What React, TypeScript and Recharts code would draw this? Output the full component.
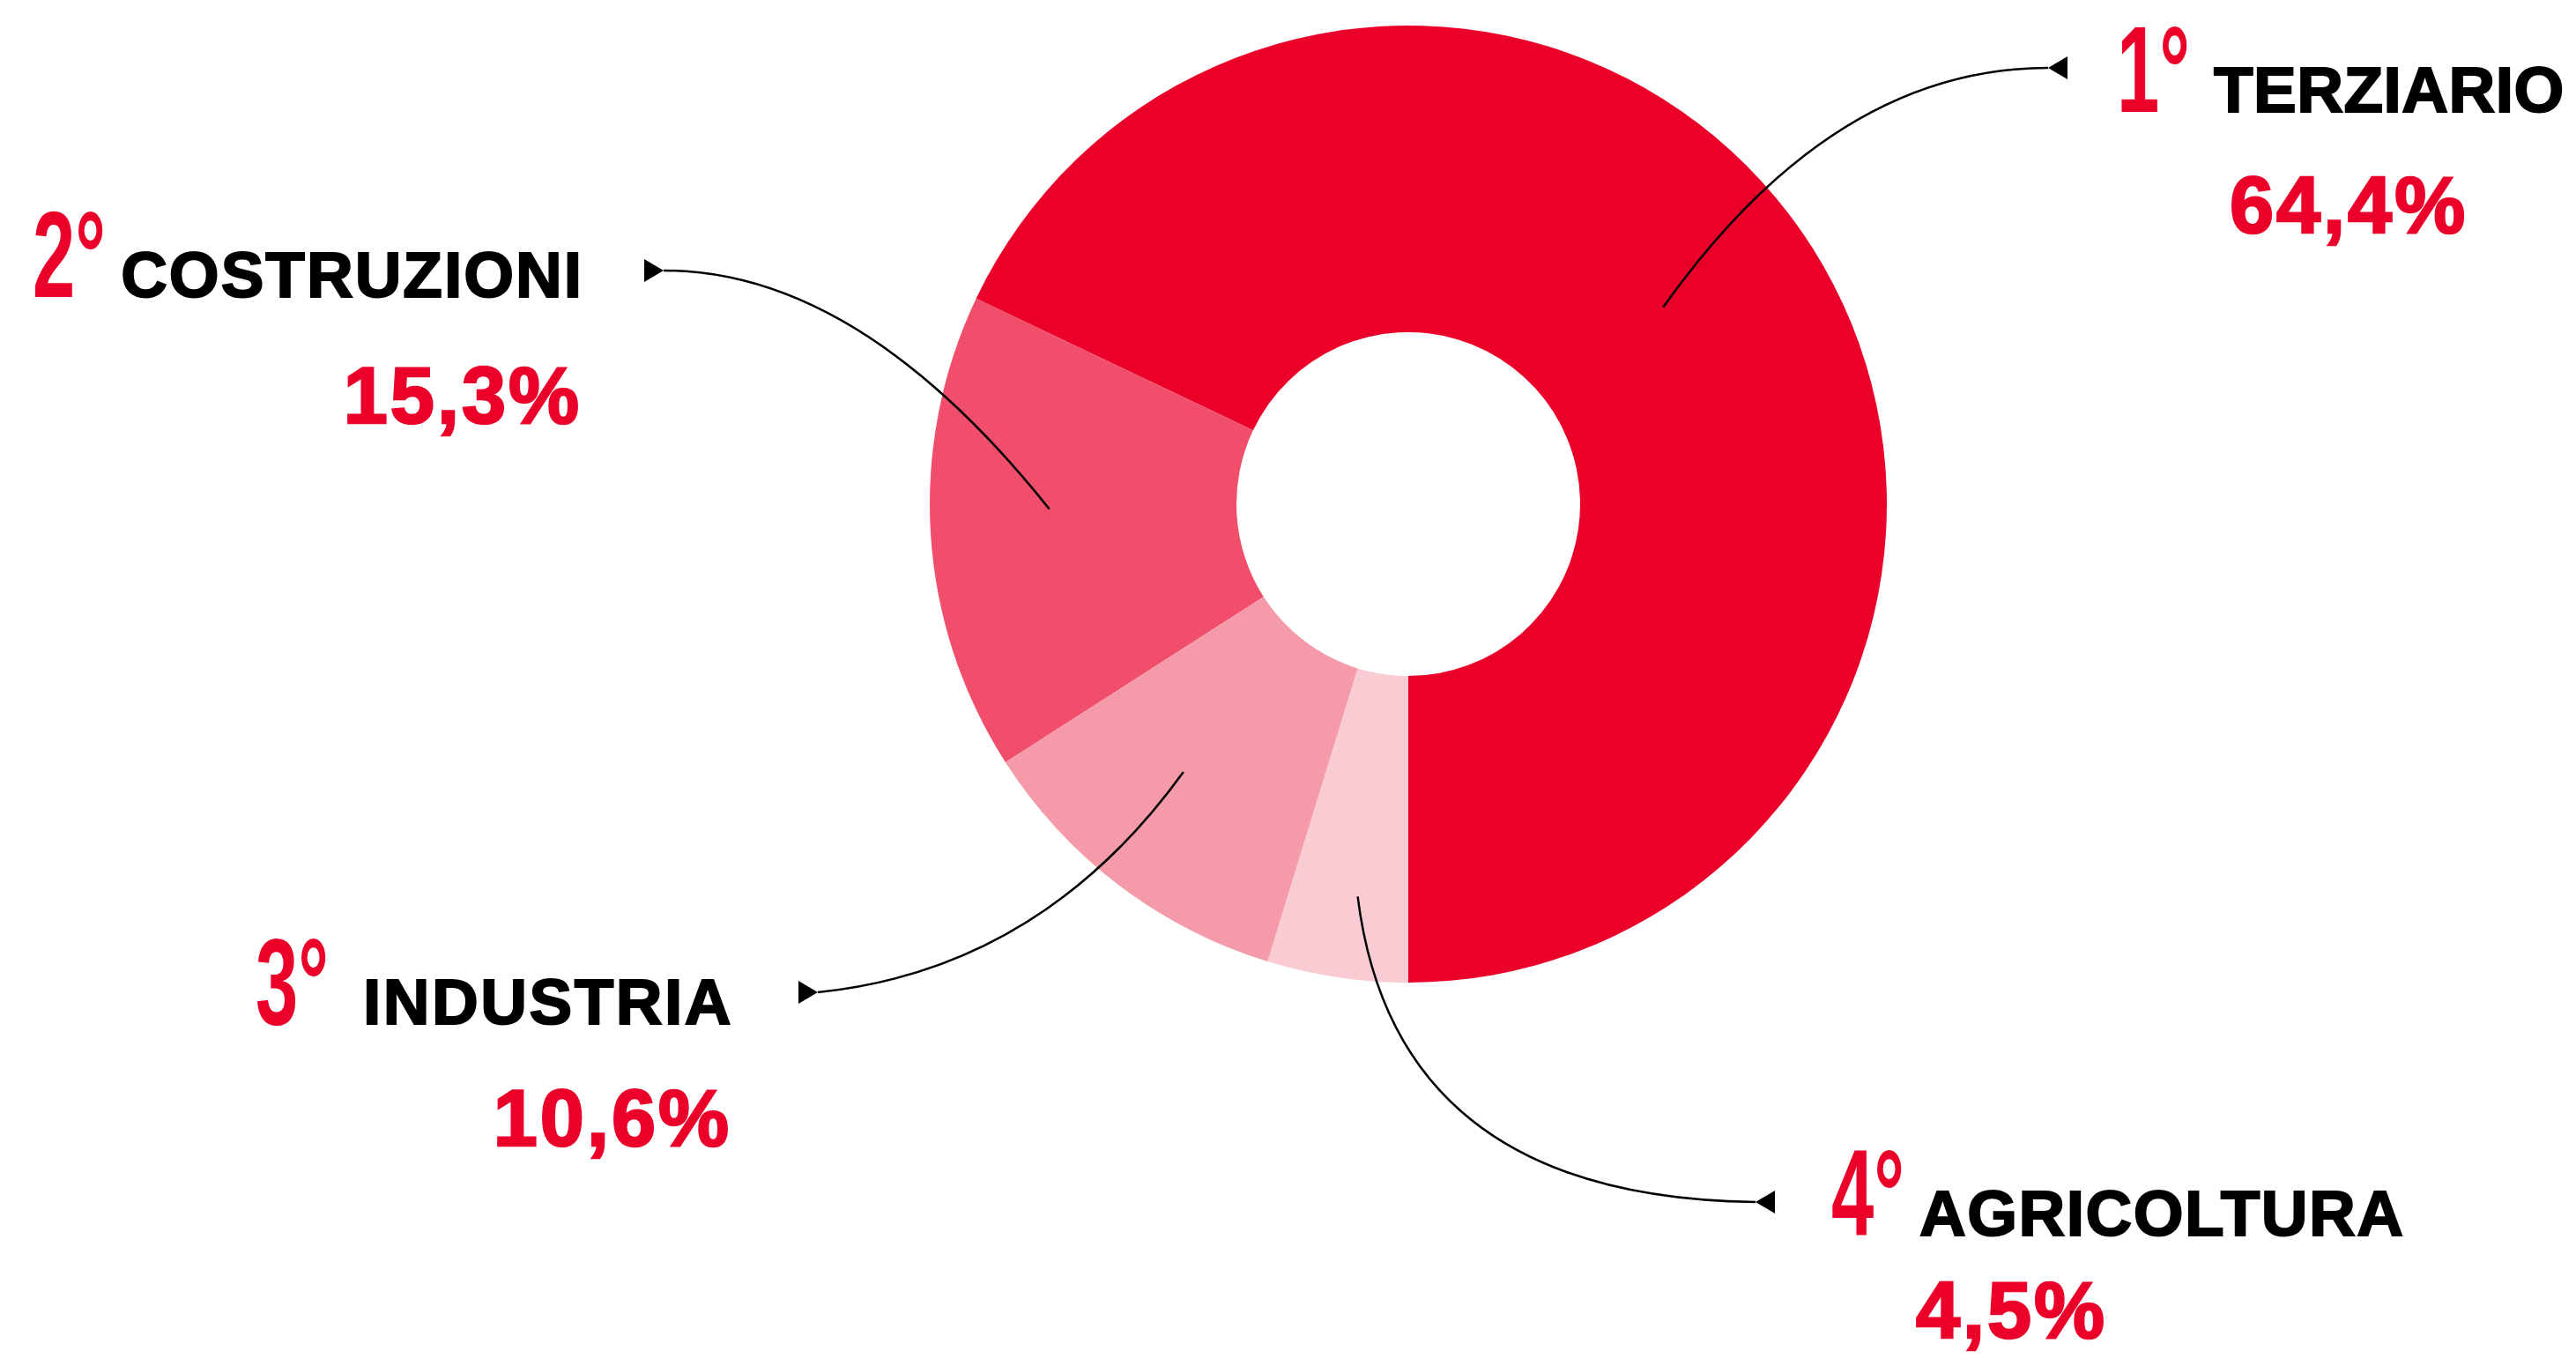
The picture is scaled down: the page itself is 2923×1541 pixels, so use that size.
import { Cell, Pie, PieChart } from 'recharts'

const sectors = ['TERZIARIO', 'COSTRUZIONI', 'INDUSTRIA', 'AGRICOLTURA']
const shares = [64.4, 15.3, 10.6, 4.5]
const ranks = ['1°', '2°', '3°', '4°']
const colors = ['#EA0029', '#F04E6A', '#F59AA8', '#F9CBD3']

const data = sectors.map((name, i) => ({ name, value: shares[i], rank: ranks[i] }))

const RED = '#EA0029'
const RAD = Math.PI / 180
const FONT = 'Liberation Sans, Arial, sans-serif'

// where each callout sits on the page
type Layout = {
  depth: number
  tilt: number
  tip: [number, number]
  ctrl: [number, number]
  dir: 1 | -1
  rankX: number
  nameX: number
  nameY: number
  track: number
  pctX: number
  pctY: number
  anchor: 'start' | 'end'
}

const layout: Layout[] = [
  { depth: 0.49, tilt: 5.4, tip: [2324, 77], ctrl: [2080, 77], dir: 1, rankX: 2402, nameX: 2512, nameY: 127, track: 0.5, pctX: 2530, pctY: 264, anchor: 'start' },
  { depth: 0.61, tilt: -2.8, tip: [753, 307], ctrl: [975, 307], dir: -1, rankX: 37, nameX: 662, nameY: 337, track: 2, pctX: 660, pctY: 480, anchor: 'end' },
  { depth: 0.58, tilt: -2.8, tip: [928, 1126], ctrl: [1181, 1100], dir: -1, rankX: 290, nameX: 832, nameY: 1162, track: 2.5, pctX: 830, pctY: 1300, anchor: 'end' },
  { depth: 0.73, tilt: 1.2, tip: [1992, 1364], ctrl: [1583, 1359], dir: 1, rankX: 2078, nameX: 2178, nameY: 1402, track: 1.5, pctX: 2174, pctY: 1518, anchor: 'start' },
]

const fmtPct = (v: number) => v.toFixed(1).replace('.', ',') + '%'

function Callout(props: any) {
  const { cx, cy, midAngle, innerRadius, outerRadius, index, payload } = props
  const l = layout[index]
  const r = innerRadius + (outerRadius - innerRadius) * l.depth
  const a = (midAngle + l.tilt) * RAD
  const ax = cx + r * Math.cos(-a)
  const ay = cy + r * Math.sin(-a)
  const [tx, ty] = l.tip
  const [qx, qy] = l.ctrl
  const bx = tx + l.dir * 22
  return (
    <g>
      <path d={`M${ax},${ay} Q${qx},${qy} ${tx},${ty}`} fill="none" stroke="#000" strokeWidth={2.5} />
      <polygon points={`${tx},${ty} ${bx},${ty - 13} ${bx},${ty + 13}`} fill="#000" />
      <g transform={`translate(${l.rankX},${l.nameY}) scale(0.62,1)`}>
        <text x={0} y={0} fill={RED} fontFamily={FONT} fontWeight={700} fontSize={140}>
          {payload.rank}
        </text>
      </g>
      <text
        x={l.nameX}
        y={l.nameY}
        textAnchor={l.anchor}
        fill="#000"
        stroke="#000"
        strokeWidth={2}
        fontFamily={FONT}
        fontWeight={700}
        fontSize={73}
        letterSpacing={l.track}
      >
        {payload.name}
      </text>
      <text
        x={l.pctX}
        y={l.pctY}
        textAnchor={l.anchor}
        fill={RED}
        stroke={RED}
        strokeWidth={2.5}
        fontFamily={FONT}
        fontWeight={700}
        fontSize={90}
        letterSpacing={3}
      >
        {fmtPct(payload.value)}
      </text>
    </g>
  )
}

export default function App() {
  return (
    <div style={{ position: 'absolute', left: 0, top: 0, background: '#fff' }}>
      <PieChart width={2923} height={1541} margin={{ top: 0, right: 0, bottom: 0, left: 0 }}>
        <Pie
          data={data}
          dataKey="value"
          nameKey="name"
          cx={1598}
          cy={572}
          innerRadius={195}
          outerRadius={543}
          startAngle={-90}
          endAngle={270}
          stroke="none"
          label={Callout}
          labelLine={false}
          isAnimationActive={false}
        >
          {data.map((d, i) => (
            <Cell key={d.name} fill={colors[i]} />
          ))}
        </Pie>
      </PieChart>
    </div>
  )
}
